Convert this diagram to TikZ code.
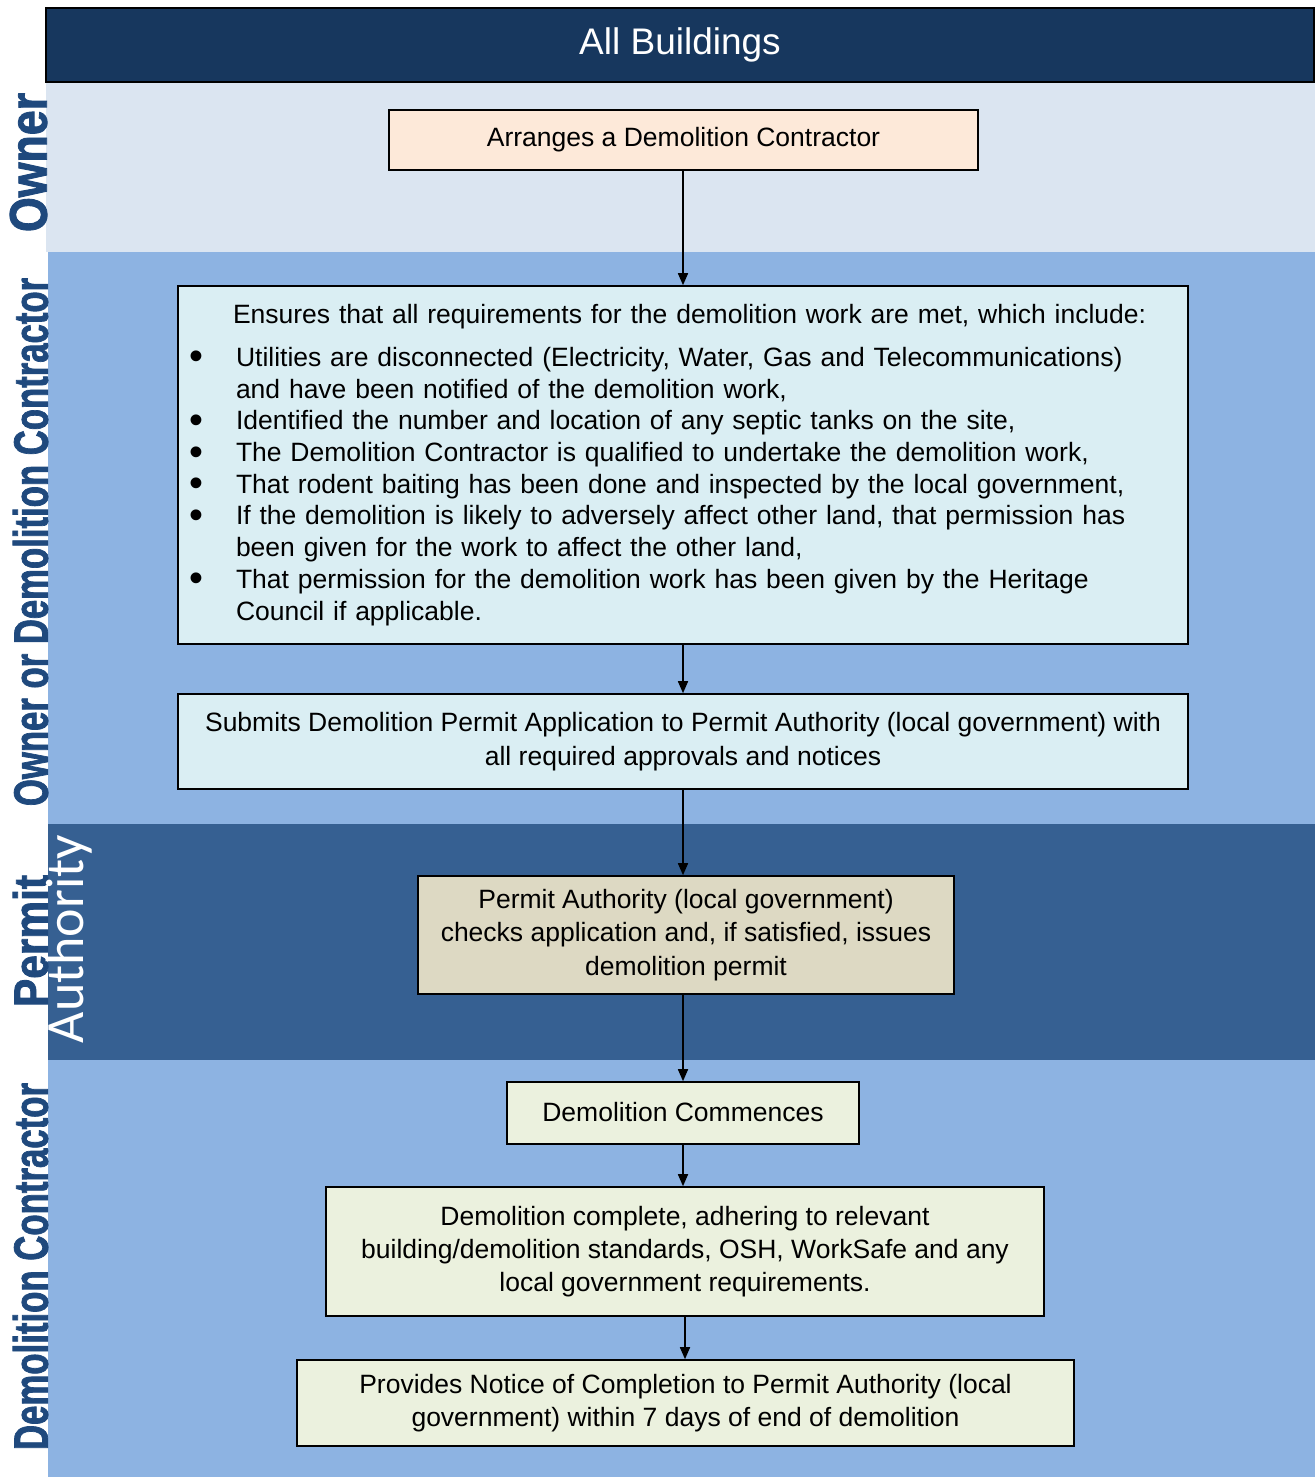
\documentclass[tikz,border=0pt]{standalone}
\usepackage{fontspec}
\setmainfont{Liberation Sans}
\newfontfamily\carlitofont{Carlito}
\newfontfamily\lanefont{Liberation Sans Bold}[FakeStretch=0.75, FakeBold=1.5]
\usetikzlibrary{arrows.meta}
\definecolor{hdrnavy}{HTML}{17375E}
\definecolor{lanelight}{HTML}{DBE5F1}
\definecolor{lanemid}{HTML}{8DB3E2}
\definecolor{lanedark}{HTML}{366092}
\definecolor{labelblue}{HTML}{1F497D}
\definecolor{peachfill}{HTML}{FDE9D9}
\definecolor{aquafill}{HTML}{DAEEF3}
\definecolor{tanfill}{HTML}{DDD9C3}
\definecolor{greenfill}{HTML}{EBF1DE}
\newcommand\mybul{\hspace*{11pt}\makebox[47pt][l]{\smash{\raisebox{-3.5pt}{\scalebox{1.5}{\textbullet}}}}}
\tikzset{
  flowbox/.style={draw=black, line width=1.6pt, inner sep=0pt, align=center,
    font=\fontsize{26.5}{33.3}\selectfont},
  arr/.style={draw=black, line width=1.6pt, -{Triangle[length=12pt,width=10pt]}},
  lanelabel/.style={inner sep=0pt, rotate=90, text=labelblue, font=\lanefont}
}
\begin{document}
\begin{tikzpicture}[x=1pt,y=-1pt]
\useasboundingbox (0,0) rectangle (1315,1477);
% lanes
\fill[lanelight] (46,82) rectangle (1315,252);
\fill[lanemid] (48,252) rectangle (1315,824);
\fill[lanedark] (48,824) rectangle (1315,1060);
\fill[lanemid] (48,1060) rectangle (1315,1477);
% header
\node[draw=black, line width=1.6pt, fill=hdrnavy, minimum width=1268pt, minimum height=74pt, inner sep=0pt,
  text=white, font=\fontsize{37}{44}\selectfont] (hdr) at (680,45) {All Buildings};
% lane labels
\node[lanelabel] (lbowner) at (28.5,162.5) {\resizebox{139pt}{37pt}{Owner}};
\node[lanelabel] (lbodc) at (30.5,542) {\resizebox{528pt}{35pt}{Owner or Demolition Contractor}};
\node[lanelabel] (lbpermit) at (30.5,941) {\resizebox{132pt}{35pt}{Permit}};
\node[inner sep=0pt, rotate=90, anchor=base, text=white, font=\carlitofont\fontsize{54}{60}\selectfont] (lbauth) at (83,939) {Authority};
\node[lanelabel] (lbdc) at (30.5,1266.5) {\resizebox{367pt}{35pt}{Demolition Contractor}};
% boxes
\node[flowbox, fill=peachfill, minimum width=589pt, minimum height=60pt] (b1) at (683.5,140) {Arranges a Demolition Contractor};
\node[flowbox, fill=aquafill, minimum width=1010pt, minimum height=358pt, text width=1010pt, align=left,
  font=\fontsize{26.5}{31.7}\selectfont] (b2) at (683,465) {%
\hspace*{55pt}Ensures that all requirements for the demolition work are met, which include:\\[11pt]
\mybul Utilities are disconnected (Electricity, Water, Gas and Telecommunications)\\
\hspace*{58pt}and have been notified of the demolition work,\\
\mybul Identified the number and location of any septic tanks on the site,\\
\mybul The Demolition Contractor is qualified to undertake the demolition work,\\
\mybul That rodent baiting has been done and inspected by the local government,\\
\mybul If the demolition is likely to adversely affect other land, that permission has\\
\hspace*{58pt}been given for the work to affect the other land,\\
\mybul That permission for the demolition work has been given by the Heritage\\
\hspace*{58pt}Council if applicable.};
\node[flowbox, fill=aquafill, minimum width=1010pt, minimum height=95pt] (b3) at (683,741.5)
  {Submits Demolition Permit Application to Permit Authority (local government) with\\all required approvals and notices};
\node[flowbox, fill=tanfill, minimum width=536pt, minimum height=118pt] (b4) at (686,935)
  {Permit Authority (local government)\\checks application and, if satisfied, issues\\demolition permit};
\node[flowbox, fill=greenfill, minimum width=352pt, minimum height=62pt] (b5) at (683,1113)
  {\raisebox{3pt}{Demolition Commences}};
\node[flowbox, fill=greenfill, minimum width=718pt, minimum height=129pt] (b6) at (685,1251.5)
  {Demolition complete, adhering to relevant\\building/demolition standards, OSH, WorkSafe and any\\local government requirements.};
\node[flowbox, fill=greenfill, minimum width=777pt, minimum height=86pt] (b7) at (685.5,1403)
  {Provides Notice of Completion to Permit Authority (local\\government) within 7 days of end of demolition};
% connectors
\draw[arr] (b1.south -| b2.north) -- (b2.north);
\draw[arr] (b2.south) -- (b3.north);
\draw[arr] (b3.south) -- (b3.south |- b4.north);
\draw[arr] (b4.south -| b3.south) -- (b3.south |- b5.north);
\draw[arr] (b5.south -| b3.south) -- (b3.south |- b6.north);
\draw[arr] (b6.south) -- (b7.north -| b6.south);
\end{tikzpicture}
\end{document}
